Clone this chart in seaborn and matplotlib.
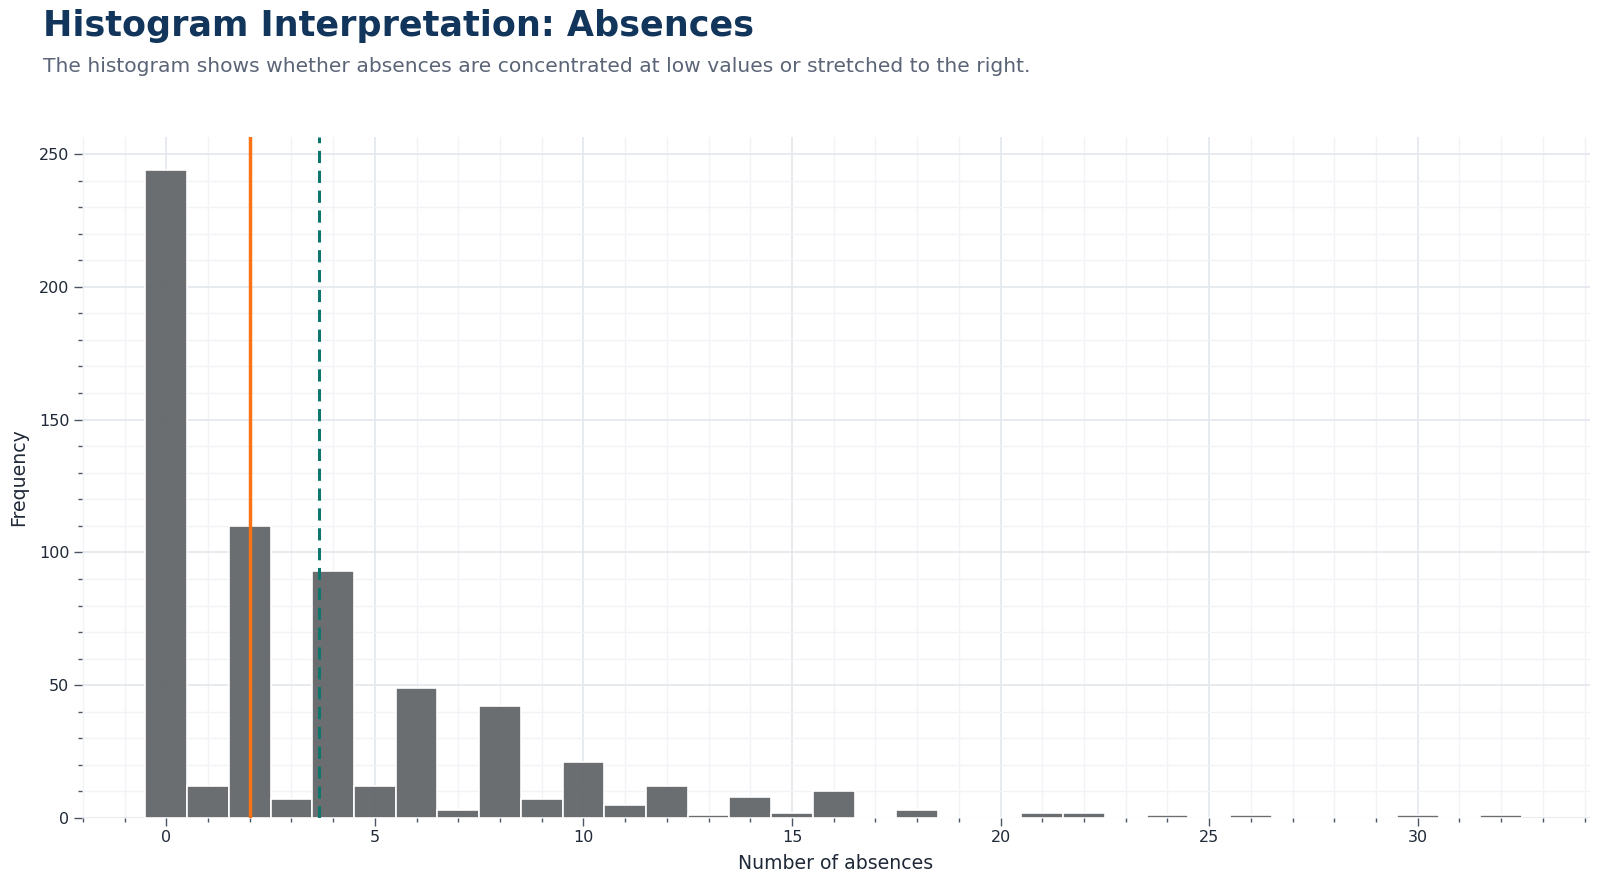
import numpy as np
import pandas as pd
import matplotlib
matplotlib.use("Agg")
import matplotlib.pyplot as plt
import seaborn as sns
from matplotlib.ticker import MultipleLocator

# Data: absences value -> frequency
absence_values = list(range(0, 33))
frequencies = [244, 12, 110, 7, 93, 12, 49, 3, 42, 7, 21, 5, 12, 1, 8, 2, 10,
               0, 3, 0, 0, 2, 2, 0, 1, 0, 1, 0, 0, 0, 1, 0, 1]

title = "Histogram Interpretation: Absences"
subtitle = "The histogram shows whether absences are concentrated at low values or stretched to the right."
x_label = "Number of absences"
y_label = "Frequency"

absences = np.repeat(absence_values, frequencies)
df = pd.DataFrame({"absences": absences})
mean_val = df["absences"].mean()
median_val = df["absences"].median()

sns.set_theme(style="white")
plt.rcParams['font.family'] = ['DejaVu Sans']

W, H = 1600, 881
fig = plt.figure(figsize=(16, 8.81), dpi=100)
L, R, T, B = 82, 1590, 137, 818
ax = fig.add_axes([L/W, 1-B/H, (R-L)/W, (B-T)/H])

sns.histplot(data=df, x="absences", discrete=True, ax=ax,
             color="#5b5e62", alpha=0.9, edgecolor="white", linewidth=1.2, zorder=3)

ax.axvline(median_val, color="#f97316", linewidth=2.5, zorder=4)
ax.axvline(mean_val, color="#0f766e", linewidth=2.2, linestyle=(0, (4, 2.5)), zorder=4)

ax.set_xlim(-2.02, 34.13)
ax.set_ylim(0, 256.4)
ax.xaxis.set_major_locator(MultipleLocator(5))
ax.xaxis.set_minor_locator(MultipleLocator(1))
ax.yaxis.set_major_locator(MultipleLocator(50))
ax.yaxis.set_minor_locator(MultipleLocator(10))

ax.grid(which="major", color="#e3e7ee", linewidth=1.2, zorder=0)
ax.grid(which="minor", color="#f1f3f7", linewidth=1.0, zorder=0)
ax.set_axisbelow(True)
for s in ax.spines.values():
    s.set_visible(False)

ax.tick_params(axis="both", which="both", bottom=True, left=True)
ax.tick_params(axis="both", which="major", direction="out", length=6, width=1,
               color="#4b5563", labelsize=11.5, labelcolor="#1f2937", pad=3)
ax.tick_params(axis="both", which="minor", direction="out", length=3, width=1,
               color="#4b5563")

ax.set_xlabel(x_label, fontsize=13.6, color="#1f2937", labelpad=6)
ax.set_ylabel(y_label, fontsize=13.6, color="#1f2937", labelpad=8)

fig.text(43/W, 1-26/H, title, fontsize=25.2, fontweight="bold", color="#12355b",
         va="center", ha="left")
fig.text(43/W, 1-67/H, subtitle, fontsize=14.6, color="#5b6577",
         va="center", ha="left")

fig.savefig("out.png", dpi=100, facecolor="white")
